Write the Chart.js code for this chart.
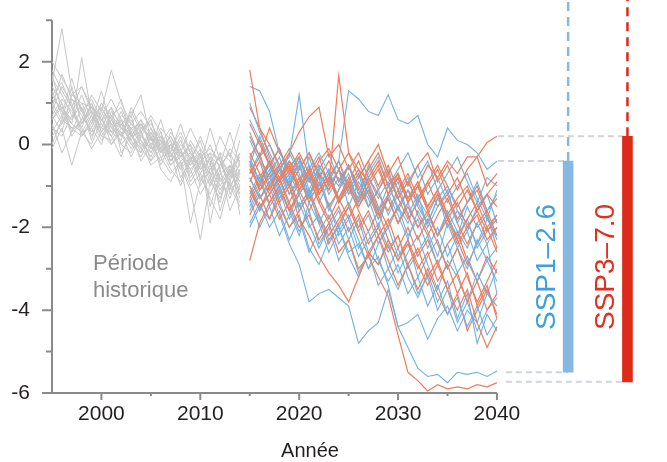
<!DOCTYPE html>
<html>
<head>
<meta charset="utf-8">
<script src="https://cdn.jsdelivr.net/npm/chart.js@4/dist/chart.umd.min.js"></script>
<style>
  html, body { margin: 0; padding: 0; background: #fff; }
  #wrap { width: 667px; height: 462px; }
</style>
</head>
<body>
<div id="wrap"><canvas id="c" width="667" height="462"></canvas></div>
<script>
// years
const histYears = [1995,1996,1997,1998,1999,2000,2001,2002,2003,2004,2005,2006,2007,2008,2009,2010,2011,2012,2013,2014];
const projYears = [2015,2016,2017,2018,2019,2020,2021,2022,2023,2024,2025,2026,2027,2028,2029,2030,2031,2032,2033,2034,2035,2036,2037,2038,2039,2040];

// historical runs (grey)
const histRuns = [
  [2.0,1.6,1.2,1.0,0.9,0.7,1.1,0.6,0.4,0.5,0.1,0.2,-0.1,-0.3,0.0,-0.4,-0.6,-0.3,-0.8,-0.5],
  [1.5,2.8,1.3,0.8,1.1,0.6,0.7,0.9,0.3,0.6,0.2,-0.2,0.1,-0.4,-0.2,-0.7,-0.3,-1.0,-0.6,-0.9],
  [0.6,0.9,0.5,2.1,0.7,0.4,0.3,0.8,0.2,-0.1,0.4,0.0,-0.5,-0.2,-0.6,-0.3,-0.9,-0.5,-0.2,-0.7],
  [0.9,0.5,1.1,0.7,0.3,0.8,1.8,1.0,0.5,0.2,0.6,-0.1,0.2,-0.3,-0.1,-0.6,-0.2,-0.4,-1.1,-0.4],
  [1.2,0.8,0.6,1.0,0.5,1.3,0.4,0.2,0.7,1.2,0.1,0.3,-0.3,0.1,-0.5,-0.2,-0.8,-1.4,-0.5,-0.8],
  [0.3,0.7,0.4,0.2,0.6,0.1,0.5,0.0,-0.2,0.3,-0.4,-0.1,-0.6,-0.9,-0.3,-0.8,-1.2,-0.6,-1.6,-1.0],
  [0.7,1.1,0.8,0.4,1.0,0.5,0.2,0.6,0.1,-0.3,0.2,-0.5,0.0,-0.2,0.4,-0.1,-0.5,0.2,-0.3,0.5],
  [-0.1,0.4,-0.5,0.3,0.0,0.6,0.2,-0.3,0.4,0.0,-0.2,0.3,-0.4,-0.1,-0.8,-0.4,-0.2,-0.9,-0.5,-1.2],
  [1.8,1.3,0.9,1.4,0.8,0.6,0.9,0.4,0.6,0.1,-0.3,0.2,-0.2,-0.6,-0.3,-1.0,-0.6,-0.3,-0.7,-0.3],
  [1.0,0.6,1.4,0.5,0.9,0.3,0.6,1.1,0.2,0.5,0.0,-0.4,0.3,-0.1,-0.7,-0.2,-1.5,-0.7,-1.0,-1.5],
  [0.4,0.2,0.7,0.9,0.2,0.7,0.0,0.3,-0.3,0.2,-0.1,0.6,-0.2,-0.5,-1.1,-2.3,-0.9,-1.3,-0.6,-1.1],
  [1.4,1.0,0.3,0.6,1.2,0.8,0.3,0.1,0.9,0.4,0.5,0.1,-0.1,0.3,-0.2,-0.5,0.0,-0.6,-0.1,-0.4],
  [0.8,1.4,1.0,0.3,0.4,0.0,0.8,0.5,0.0,-0.2,0.3,-0.3,-0.7,-0.4,-1.0,-0.7,-1.3,-1.8,-0.9,-1.4],
  [0.5,-0.2,0.3,0.9,0.4,1.0,0.6,0.2,0.5,0.8,0.4,-0.2,0.0,-0.6,0.1,-0.3,-0.1,-0.4,-0.9,-0.2],
  [1.6,1.2,0.7,0.5,0.8,0.2,0.1,0.5,0.7,-0.1,-0.4,0.1,-0.3,0.2,-0.4,0.2,-0.4,-0.8,-1.3,-0.6],
  [1.1,0.9,0.6,1.2,0.6,0.9,0.5,0.3,-0.1,0.4,0.2,-0.6,-0.9,-0.4,-1.9,-0.9,-0.5,-1.1,-0.7,-0.2],
  [0.2,0.5,0.9,0.4,-0.1,0.3,0.7,0.4,0.3,-0.4,0.0,0.4,0.1,-0.8,-0.4,0.1,-0.7,-0.2,-0.4,-0.9],
  [1.3,0.7,1.6,0.8,0.3,0.5,0.2,0.7,0.5,0.3,0.7,0.3,-0.4,0.0,-0.3,-0.5,-1.0,-0.5,-0.2,-1.7],
  [0.6,1.0,0.2,0.6,0.8,0.4,0.9,-0.2,0.2,0.6,-0.1,0.0,0.4,-0.3,-0.6,-1.2,-0.8,-0.2,-1.2,-0.7],
  [0.9,1.7,1.1,0.9,0.1,0.9,0.4,0.6,0.0,0.1,-0.5,-0.3,-0.2,0.5,-0.2,-0.6,-0.4,-1.6,-0.8,0.1],
  [1.7,0.8,0.5,0.3,0.7,0.2,0.6,0.2,0.8,0.3,0.6,-0.2,0.2,-0.2,-0.5,-0.1,-1.9,-0.7,-0.5,-1.0],
  [0.0,0.6,0.4,0.5,1.0,0.3,0.0,0.4,0.1,0.5,0.1,0.1,-0.5,-0.3,0.0,-0.9,-0.3,-0.5,0.3,-0.5],
  [1.2,1.5,0.9,0.2,0.5,1.0,0.7,0.0,0.3,-0.2,0.3,-0.1,-0.2,-1.0,-0.4,-0.4,-0.7,-1.2,-0.6,-1.3],
  [0.7,0.3,1.2,1.4,0.9,0.6,0.3,0.5,0.2,0.3,-0.2,0.2,-0.4,-0.1,-0.9,-0.5,0.4,-0.4,-1.0,-0.6]
];

// SSP1-2.6 runs (blue)
const ssp126Runs = [
  [1.4,1.3,0.8,-0.2,-0.5,-0.3,-0.9,-0.6,-1.2,-0.8,-1.1,-1.5,-1.0,-1.6,-1.3,-1.9,-1.4,-2.0,-1.7,-2.2,-1.6,-2.1,-2.5,-1.9,-2.4,-2.0],
  [0.1,-0.4,-0.8,-0.6,-0.3,1.2,-0.6,-0.2,-0.7,-1.0,-0.5,-1.2,-0.8,-1.3,-0.9,-1.6,-1.1,-1.4,-1.9,-1.3,-1.8,-2.2,-1.5,-2.0,-1.7,-2.3],
  [-0.6,-0.9,-0.4,-1.1,-0.7,-1.2,-0.8,-0.5,-0.9,-0.4,1.3,1.1,0.8,0.7,1.2,0.6,0.5,0.7,0.0,-0.3,0.4,0.1,0.0,-0.2,-0.6,-0.4],
  [1.0,0.3,-0.2,-0.7,-0.9,-0.4,-1.3,-1.0,-0.6,-1.4,-1.1,-0.7,-1.2,-1.6,-1.0,-1.5,-1.9,-1.3,-1.7,-1.2,-2.0,-1.6,-1.9,-2.4,-1.8,-2.2],
  [-0.8,-1.3,-1.0,-1.7,-2.4,-2.9,-3.8,-3.6,-3.5,-3.7,-3.9,-4.8,-4.5,-4.3,-3.5,-4.4,-4.3,-4.1,-4.7,-4.2,-3.9,-4.5,-4.0,-4.3,-3.6,-3.9],
  [-1.2,-0.7,-1.5,-1.1,-1.8,-1.4,-2.0,-1.7,-2.3,-2.0,-2.6,-2.4,-3.0,-2.7,-3.4,-4.4,-4.9,-5.4,-5.6,-5.55,-5.75,-5.5,-5.55,-5.5,-5.6,-5.47],
  [-0.3,-0.9,-0.5,-1.2,-0.8,-1.5,-1.1,-1.9,-1.4,-2.2,-1.8,-2.5,-2.1,-2.8,-3.3,-2.9,-3.6,-3.2,-3.9,-3.4,-4.1,-3.7,-4.4,-3.9,-4.6,-4.2],
  [-1.5,-1.0,-0.6,-1.3,-0.9,-0.5,-1.2,-0.8,-1.6,-1.1,-0.7,-1.4,-1.0,-1.8,-1.3,-0.9,-1.7,-1.2,-2.0,-1.5,-1.1,-1.9,-1.4,-0.9,-1.6,-1.2],
  [-0.5,0.2,-0.4,-0.9,-0.2,-0.7,-1.3,-0.5,-1.0,-0.6,-1.5,-0.9,-1.3,-2.0,-1.2,-1.7,-2.3,-1.6,-2.1,-2.7,-1.9,-2.5,-3.0,-2.3,-2.8,-3.3],
  [-1.9,-1.4,-2.0,-1.6,-2.3,-1.8,-2.6,-2.1,-1.7,-2.4,-2.0,-2.7,-2.3,-1.9,-2.5,-2.2,-3.0,-2.6,-2.2,-2.9,-2.4,-3.1,-2.7,-3.3,-2.8,-2.5],
  [0.3,-0.3,0.0,-0.6,-1.0,-0.4,-0.8,-1.4,-0.9,-0.4,-1.1,-0.7,-1.5,-1.1,-0.6,-1.3,-0.9,-0.5,-1.2,-0.8,-1.4,-1.0,-0.7,-1.3,-1.8,-1.1],
  [-1.0,-1.6,-1.2,-0.8,-1.5,-2.1,-1.6,-2.4,-2.0,-2.8,-2.3,-3.1,-2.6,-3.4,-3.0,-2.5,-3.2,-3.7,-3.1,-3.8,-3.3,-4.2,-3.6,-4.8,-4.1,-4.5],
  [-0.7,-0.2,-1.0,-0.5,-1.2,-0.9,-0.3,-1.0,-0.6,-1.4,-0.9,-1.3,-0.5,-1.1,-1.7,-1.2,-0.8,-1.5,-1.9,-1.3,-1.0,-1.6,-2.1,-1.5,-1.2,-1.9],
  [-1.3,-2.0,-1.5,-2.2,-1.7,-1.2,-1.9,-2.5,-2.0,-1.6,-2.3,-1.8,-2.6,-2.9,-2.4,-3.1,-2.6,-2.2,-2.9,-3.5,-2.8,-3.2,-3.8,-3.1,-3.6,-3.0],
  [0.6,0.1,-0.5,-0.1,-0.8,-0.3,-1.1,-0.6,-0.2,-0.9,-0.5,-1.2,-0.7,-0.3,-1.0,-0.6,-0.2,-0.8,-0.4,-1.1,-0.7,-0.3,-0.9,-1.4,-0.8,-1.0],
  [-2.0,-1.5,-1.8,-1.1,-1.6,-2.2,-1.4,-1.9,-2.6,-2.1,-1.7,-2.3,-3.0,-2.4,-2.0,-2.7,-2.3,-3.2,-2.7,-2.3,-3.0,-2.5,-2.1,-2.8,-2.4,-3.6],
  [-0.4,-1.1,-0.7,-0.3,-1.0,-1.6,-1.2,-0.7,-1.5,-2.0,-1.5,-2.1,-1.7,-2.4,-1.9,-1.5,-2.2,-1.8,-2.5,-2.0,-2.7,-2.2,-1.8,-2.5,-2.1,-1.7],
  [-1.6,-1.1,-0.8,-1.4,-2.0,-1.7,-2.5,-2.9,-2.3,-2.0,-2.7,-3.2,-2.6,-2.2,-3.0,-3.5,-2.9,-3.6,-3.2,-4.0,-3.5,-4.3,-3.8,-4.5,-4.0,-3.7]
];

// SSP3-7.0 runs (orange)
const ssp370Runs = [
  [1.8,0.4,-0.3,-0.8,-0.4,-1.0,-0.6,-1.2,-0.8,-1.4,-0.9,-1.5,-1.1,-1.7,-1.3,-1.9,-1.5,-2.0,-1.6,-2.2,-1.8,-2.4,-2.0,-1.7,-2.3,-2.0],
  [-0.6,-1.0,-0.4,-0.9,-0.5,-1.1,-0.7,-0.3,-1.0,1.66,-0.2,-0.6,-0.9,-0.5,-1.2,-0.8,-1.4,-1.0,-1.6,-1.2,-1.8,-1.4,-2.0,-1.6,-2.1,-1.8],
  [-0.9,-0.4,-1.1,-0.6,-0.2,0.3,0.67,0.9,-0.3,0.0,-0.6,-0.2,-0.8,-0.4,-1.0,-0.7,-1.3,-0.9,-1.5,-1.1,-1.7,-1.3,-1.0,-1.6,-1.2,-1.5],
  [-0.2,-0.7,-1.2,-0.8,-1.4,-0.9,-0.5,-1.1,-0.7,-1.3,-0.9,-0.4,-1.0,-0.6,-1.2,-0.8,-1.4,-1.0,-0.5,-0.8,-0.4,-0.7,-0.3,-0.3,0.05,0.2],
  [-1.0,-1.5,-1.2,-1.8,-1.4,-2.0,-1.7,-2.3,-1.9,-2.6,-2.3,-3.0,-2.7,-3.2,-3.66,-4.6,-5.5,-5.7,-5.95,-5.8,-5.9,-5.85,-5.9,-5.8,-5.85,-5.75],
  [-2.8,-1.9,-1.4,-1.0,-1.6,-1.2,-0.8,-1.4,-1.9,-1.5,-2.1,-1.7,-2.4,-2.0,-2.6,-2.2,-2.9,-2.5,-3.2,-2.8,-3.5,-3.1,-3.8,-3.3,-4.0,-3.6],
  [-0.5,-1.1,-0.7,-1.4,-1.0,-1.8,-2.2,-2.7,-3.1,-3.4,-3.8,-3.2,-2.6,-2.9,-2.3,-2.8,-2.4,-3.0,-2.6,-3.3,-2.9,-3.6,-3.1,-3.9,-3.4,-4.2],
  [0.5,0.0,-0.5,-0.1,-0.7,-0.3,-0.9,-0.4,-0.1,-0.6,-0.2,-0.8,-0.4,0.0,-0.7,-0.3,-1.0,-0.5,-0.2,-0.9,-0.5,-1.1,-0.6,-0.3,-1.0,-0.7],
  [-1.3,-0.8,-0.4,-0.9,-0.5,-1.1,-1.6,-1.1,-0.7,-1.3,-1.8,-1.3,-0.9,-1.5,-2.0,-1.5,-1.1,-1.7,-2.2,-1.7,-1.3,-1.9,-2.4,-1.9,-1.6,-2.2],
  [0.2,-0.3,0.4,-0.2,-0.6,-0.2,-0.7,-1.2,-0.8,-1.4,-1.0,-1.6,-2.1,-1.6,-2.3,-2.8,-2.3,-2.9,-3.4,-2.9,-3.5,-4.0,-3.5,-4.3,-4.9,-4.4],
  [-0.7,-0.3,-0.8,-0.5,-1.0,-0.6,-0.2,-0.8,-0.4,-0.9,-0.5,-1.1,-0.6,-0.2,-0.8,-1.3,-0.9,-1.4,-1.0,-0.6,-1.2,-0.8,-1.4,-1.1,-1.7,-2.5],
  [-1.7,-1.2,-1.8,-1.3,-0.9,-1.5,-1.1,-1.7,-2.2,-1.8,-1.4,-2.0,-1.6,-2.2,-1.8,-2.5,-2.0,-2.7,-2.3,-2.9,-2.4,-2.1,-2.8,-3.3,-2.7,-3.1],
  [-0.3,0.1,-0.5,-0.9,-0.4,-0.8,-1.3,-0.7,-1.1,-0.6,-1.0,-1.4,-0.8,-1.2,-1.6,-1.1,-1.7,-2.3,-1.8,-2.4,-3.0,-2.5,-3.2,-3.8,-3.3,-2.8],
  [-1.1,-1.6,-1.0,-0.6,-1.2,-0.8,-1.4,-0.9,-1.5,-1.1,-0.5,-1.0,-1.5,-1.1,-0.7,-1.3,-1.8,-1.4,-0.9,-1.5,-1.2,-1.8,-1.4,-1.0,-1.6,-1.3],
  [-0.8,-1.3,-0.9,-1.5,-2.0,-1.6,-1.2,-1.8,-2.4,-1.9,-1.5,-2.1,-2.7,-2.2,-2.8,-3.4,-2.9,-3.5,-3.0,-3.6,-4.1,-3.6,-4.5,-4.0,-3.5,-4.1],
  [0.9,0.4,0.0,-0.5,-0.1,-0.6,-0.2,-0.7,-1.1,-0.6,-1.2,-0.8,-0.4,-1.0,-0.5,-1.1,-0.7,-1.3,-0.9,-0.5,-1.0,-1.5,-1.1,-1.6,-1.2,-0.9],
  [-0.4,-0.9,-1.4,-1.0,-0.6,-1.1,-0.7,-1.3,-1.8,-1.3,-0.8,-1.4,-1.0,-1.6,-1.2,-0.7,-1.3,-0.9,-1.5,-1.1,-1.7,-2.3,-1.8,-1.4,-2.0,-1.7],
  [-1.4,-0.9,-0.5,-1.0,-1.6,-1.1,-0.6,-1.2,-0.8,-0.4,-1.0,-0.6,-1.2,-1.8,-1.3,-1.9,-1.4,-1.0,-1.6,-2.2,-1.7,-2.3,-2.9,-2.4,-2.0,-2.6]
];

// 2040 ranges shown by the bars on the right
const ssp126Range = [-5.5, -0.4];
const ssp370Range = [-5.73, 0.2];

// axis ticks
const yTickValues = [-6,-5,-4,-3,-2,-1,0,1,2,3];
const yLabelValues = [-6,-4,-2,0,2];
const xTickValues = [2000,2005,2010,2015,2020,2025,2030,2035,2040];
const xLabelValues = [2000,2010,2020,2030,2040];

const GREY = '#c7c7c7';
const BLUE = '#72b0e2';
const ORANGE = '#ef7d5b';
const BAR_BLUE = '#86b9e1';
const BAR_RED = '#dd2b19';
const DOT = '#cfd5d9';
const X_BLUE = 2047.2;
const X_RED = 2053.2;

const toPts = (years, vals) => vals.map((v, i) => ({ x: years[i], y: v }));

const datasets = [];

// bars (on top)
datasets.push({
  type: 'bar', data: [{ x: X_BLUE, y: ssp126Range }],
  backgroundColor: BAR_BLUE, barThickness: 10, grouped: false, order: 0
});
datasets.push({
  type: 'bar', data: [{ x: X_RED, y: ssp370Range }],
  backgroundColor: BAR_RED, barThickness: 10, grouped: false, order: 0
});

// dashed verticals above the bars
const dashLine = (x, y0, color) => ({
  type: 'line', data: [{ x, y: y0 }, { x, y: 3.6 }],
  borderColor: color, borderWidth: 2.5, borderDash: [9, 6],
  pointRadius: 0, order: 1, clip: false
});
datasets.push(dashLine(X_BLUE, ssp126Range[1], BAR_BLUE));
datasets.push(dashLine(X_RED, ssp370Range[1], BAR_RED));

// dotted grey connectors
const dotLine = (x0, x1, y) => ({
  type: 'line', data: [{ x: x0, y }, { x: x1, y }],
  borderColor: DOT, borderWidth: 2, borderDash: [6, 4],
  pointRadius: 0, order: 2
});
datasets.push(dotLine(2040.1, X_RED, ssp370Range[1]));
datasets.push(dotLine(2040.1, X_BLUE, ssp126Range[1]));
datasets.push(dotLine(2040.9, X_BLUE, ssp126Range[0]));
datasets.push(dotLine(2040.9, X_RED, ssp370Range[0]));

// projections, interleaved
const n = Math.max(ssp126Runs.length, ssp370Runs.length);
for (let i = 0; i < n; i++) {
  if (ssp370Runs[i]) datasets.push({
    type: 'line', data: toPts(projYears, ssp370Runs[i]),
    borderColor: ORANGE, borderWidth: 1.2, pointRadius: 0, tension: 0, order: 3
  });
  if (ssp126Runs[i]) datasets.push({
    type: 'line', data: toPts(projYears, ssp126Runs[i]),
    borderColor: BLUE, borderWidth: 1.1, pointRadius: 0, tension: 0, order: 3
  });
}

histRuns.forEach(r => datasets.push({
  type: 'line', data: toPts(histYears, r),
  borderColor: GREY, borderWidth: 1, pointRadius: 0, tension: 0, order: 4
}));

// axis lines, tick marks and text labels
const decor = {
  id: 'decor',
  beforeDatasetsDraw(chart) {
    const { ctx, scales: { x, y } } = chart;
    const x0 = x.getPixelForValue(1995), x1 = x.getPixelForValue(2040);
    const yb = y.getPixelForValue(-6), yt = y.getPixelForValue(3);
    ctx.save();
    ctx.strokeStyle = '#8a8a8a';
    ctx.lineWidth = 2;
    ctx.beginPath();
    ctx.moveTo(x0, yt); ctx.lineTo(x0, yb); ctx.lineTo(x1, yb);
    yTickValues.forEach(v => {
      const py = y.getPixelForValue(v);
      const len = v % 2 === 0 ? 10 : 6;
      ctx.moveTo(x0 - len, py); ctx.lineTo(x0, py);
    });
    xTickValues.forEach(v => {
      const px = x.getPixelForValue(v);
      const len = v % 10 === 0 ? 7 : 3;
      ctx.moveTo(px, yb); ctx.lineTo(px, yb + len);
    });
    ctx.stroke();
    ctx.restore();
  },
  afterDraw(chart) {
    const { ctx } = chart;
    ctx.save();
    ctx.fillStyle = '#8a8a8a';
    ctx.font = '22px "Liberation Sans", Arial, sans-serif';
    ctx.textAlign = 'left';
    ctx.textBaseline = 'alphabetic';
    ctx.fillText('Période', 93, 270);
    ctx.fillText('historique', 93, 297);

    ctx.fillStyle = '#231f20';
    ctx.font = '20px "Liberation Sans", Arial, sans-serif';
    ctx.textAlign = 'center';
    ctx.fillText('Année', 310, 457);

    ctx.font = '28px "Liberation Sans", Arial, sans-serif';
    ctx.textAlign = 'left';
    ctx.textBaseline = 'middle';
    ctx.translate(547, 330);
    ctx.rotate(-Math.PI / 2);
    ctx.fillStyle = '#3e9fdc';
    ctx.fillText('SSP1\u20132.6', 0, 0);
    ctx.rotate(Math.PI / 2);
    ctx.translate(59, 0);
    ctx.rotate(-Math.PI / 2);
    ctx.fillStyle = '#e0301f';
    ctx.fillText('SSP3\u20137.0', 0, 0);
    ctx.restore();
  }
};

new Chart(document.getElementById('c'), {
  type: 'line',
  data: { datasets },
  options: {
    responsive: false,
    animation: false,
    events: [],
    layout: { padding: 0, autoPadding: false },
    plugins: { legend: { display: false }, tooltip: { enabled: false } },
    scales: {
      x: {
        type: 'linear',
        min: 1995,
        max: 2057.2,
        offset: false,
        grid: { display: false, drawTicks: false },
        border: { display: false },
        afterBuildTicks: s => { s.ticks = xLabelValues.map(v => ({ value: v })); },
        afterFit: s => { s.height = 69; s.paddingLeft = 0; s.paddingRight = 0; },
        ticks: {
          autoSkip: false, maxRotation: 0, padding: 9,
          color: '#231f20',
          font: { family: '"Liberation Sans", Arial, sans-serif', size: 21 },
          callback: v => String(v)
        }
      },
      y: {
        min: -6,
        max: 3.49,
        grid: { display: false, drawTicks: false },
        border: { display: false },
        afterBuildTicks: s => { s.ticks = yLabelValues.map(v => ({ value: v })); },
        afterFit: s => { s.width = 52; s.paddingTop = 0; s.paddingBottom = 0; },
        ticks: {
          padding: 22,
          color: '#231f20',
          font: { family: '"Liberation Sans", Arial, sans-serif', size: 21 },
          callback: v => String(v)
        }
      }
    }
  },
  plugins: [decor]
});
</script>
</body>
</html>
